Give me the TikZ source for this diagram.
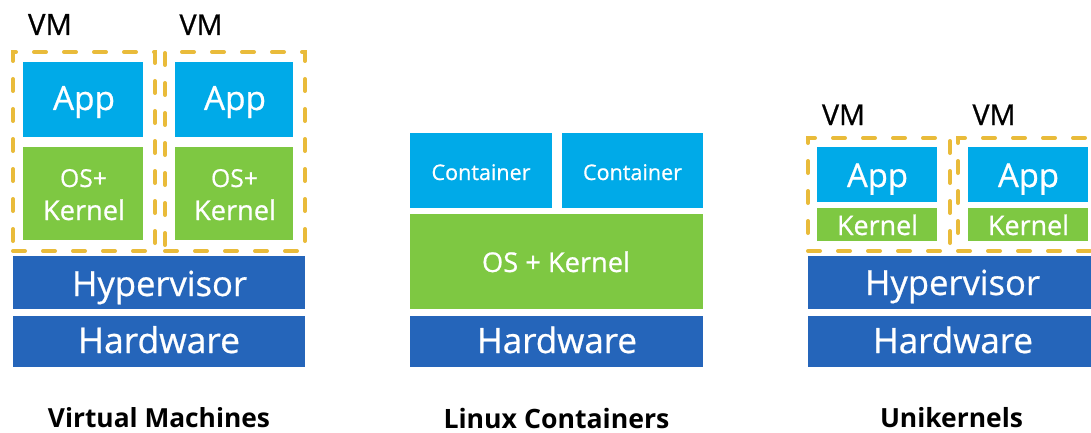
\documentclass[tikz,border=0pt]{standalone}
\usepackage{fontspec}
\setmainfont{Open Sans}
\newfontfamily\lblfont[FakeBold=0.7]{Open Sans}
\usepackage{graphicx}
\usetikzlibrary{fit}
\definecolor{appblue}{RGB}{0,170,232}
\definecolor{kgreen}{RGB}{126,200,66}
\definecolor{hvblue}{RGB}{37,101,186}
\definecolor{vmgold}{RGB}{233,187,58}
% scale a label to a given width, keeping its proportions
\newcommand{\fitw}[2]{\resizebox{#1}{!}{#2}}
\begin{document}
\begin{tikzpicture}[x=1pt,y=-1pt,
  blk/.style={inner sep=0pt, outer sep=0pt, draw=none},
  appblk/.style={blk, fill=appblue},
  osblk/.style={blk, fill=kgreen},
  hwblk/.style={blk, fill=hvblue},
  vmbox/.style={inner sep=0pt, outer sep=0pt, draw=vmgold, line width=4pt,
    line cap=round, dash pattern=on 12pt off 18pt},
  lbl/.style={inner sep=0pt, anchor=base, text=white, font=\lblfont},
  vmlbl/.style={inner sep=0pt, anchor=base, text=black, font=\lblfont},
  title/.style={inner sep=0pt, anchor=base, text=black, font=\bfseries}]
\useasboundingbox (0,0) rectangle (1091,433);
\clip (0,0) rectangle (1091,433);
\fill[white] (0,0) rectangle (1091,433);

% ---------------- Virtual Machines ----------------
\node[hwblk, fit={(13,256) (305,309)}] (vhyp) {};
\node[hwblk, fit={(13,316) (305,367)}] (vhw) {};
\node[appblk, fit={(23,62) (143,137)}] (vapp1) {};
\node[osblk, fit={(23,147) (143,240)}] (vos1) {};
\node[appblk, fit={(175,62) (293,137)}] (vapp2) {};
\node[osblk, fit={(175,147) (293,240)}] (vos2) {};
\node[vmbox, fit={(13,52) (155,251)}] (vvm1) {};
\node[vmbox, fit={(165,52) (305,251)}] (vvm2) {};

\node[vmlbl] (vvm1t) at (50,35) {\fitw{44pt}{VM}};
\node[vmlbl] (vvm2t) at (201,35) {\fitw{43pt}{VM}};
\node[lbl] (vapp1t) at (84,110) {\fitw{62pt}{App}};
\node[lbl] (vapp2t) at (235,110) {\fitw{62pt}{App}};
\node[lbl] (vos1a) at (83.5,187) {\fitw{47pt}{OS+}};
\node[lbl] (vos1b) at (84,220) {\fitw{82pt}{Kernel}};
\node[lbl] (vos2a) at (234.5,187) {\fitw{47pt}{OS+}};
\node[lbl] (vos2b) at (235,220) {\fitw{82pt}{Kernel}};
\node[lbl] (vhypt) at (159.5,296) {\fitw{175pt}{Hypervisor}};
\node[lbl] (vhwt) at (159,353) {\fitw{162pt}{Hardware}};
\node[title] (vcap) at (159,427) {\fitw{222pt}{Virtual Machines}};

% ---------------- Linux Containers ----------------
\node[appblk, fit={(410,133) (552,208)}] (lc1) {};
\node[appblk, fit={(562,133) (703,208)}] (lc2) {};
\node[osblk, fit={(410,214) (703,309)}] (los) {};
\node[hwblk, fit={(410,316) (703,367)}] (lhw) {};

\node[lbl] (lc1t) at (481,180) {\fitw{99pt}{Container}};
\node[lbl] (lc2t) at (632.5,180) {\fitw{99pt}{Container}};
\node[lbl] (lost) at (556,272) {\fitw{148pt}{OS + Kernel}};
\node[lbl] (lhwt) at (557,353) {\fitw{160pt}{Hardware}};
\node[title] (lcap) at (556.5,428.5) {\fitw{226pt}{Linux Containers}};

% ---------------- Unikernels ----------------
\node[hwblk, fit={(808,256) (1100,309)}] (uhyp) {};
\node[hwblk, fit={(808,316) (1100,367)}] (uhw) {};
\node[appblk, fit={(817,147) (937,202)}] (uapp1) {};
\node[osblk, fit={(817,208) (937,241)}] (uk1) {};
\node[appblk, fit={(968,147) (1088,202)}] (uapp2) {};
\node[osblk, fit={(968,208) (1088,241)}] (uk2) {};
\node[vmbox, fit={(808,138) (950,251)}] (uvm1) {};
\node[vmbox, fit={(958,138) (1100,251)}] (uvm2) {};

\node[vmlbl] (uvm1t) at (843.5,125) {\fitw{43pt}{VM}};
\node[vmlbl] (uvm2t) at (994,125) {\fitw{43pt}{VM}};
\node[lbl] (uapp1t) at (877.5,187) {\fitw{61pt}{App}};
\node[lbl] (uapp2t) at (1028.5,187) {\fitw{61pt}{App}};
\node[lbl] (uk1t) at (877.5,235) {\fitw{81pt}{Kernel}};
\node[lbl] (uk2t) at (1028.5,235) {\fitw{81pt}{Kernel}};
\node[lbl] (uhypt) at (952.5,295) {\fitw{175pt}{Hypervisor}};
\node[lbl] (uhwt) at (953,353) {\fitw{160pt}{Hardware}};
\node[title] (ucap) at (951.5,427) {\fitw{143pt}{Unikernels}};
\end{tikzpicture}
\end{document}
